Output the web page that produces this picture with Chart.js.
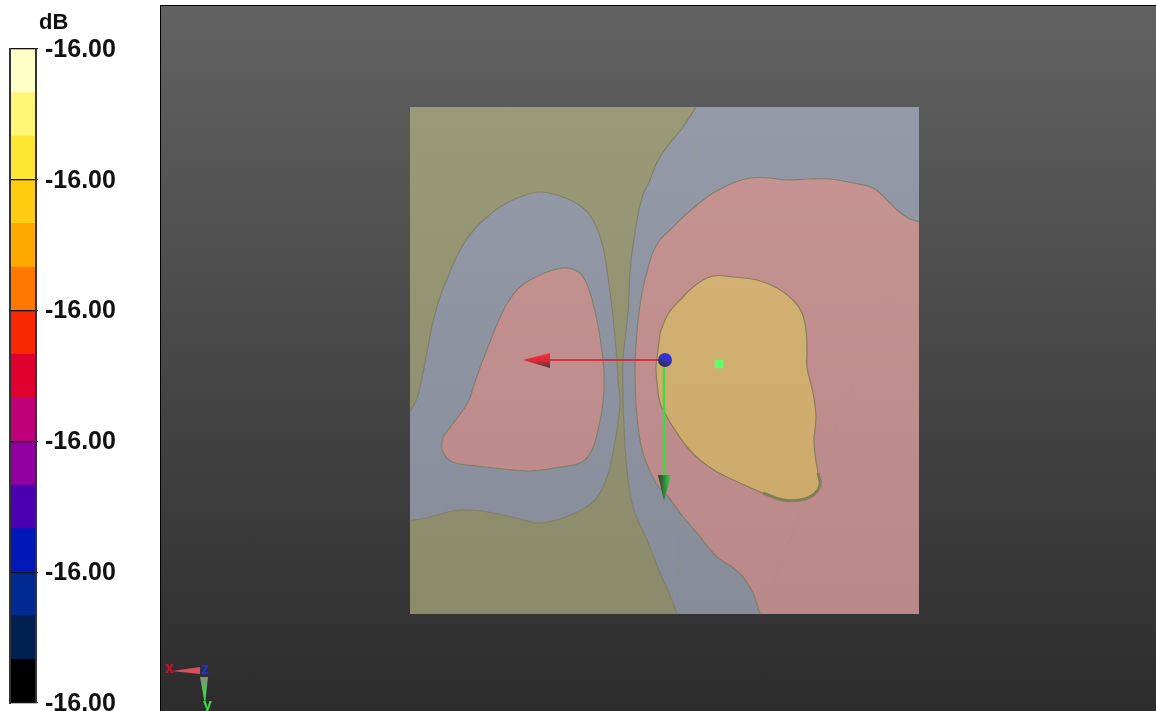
<!DOCTYPE html>
<html lang="en">
<head>
  <meta charset="UTF-8">
  <title>dB contour</title>
  <script src="https://cdn.jsdelivr.net/npm/chart.js"></script>
  <style>
    html, body { margin: 0; padding: 0; background: #fff; overflow: hidden; }
    #page { position: relative; width: 1156px; height: 711px; }
    #barWrap { position: absolute; left: 0; top: 0; width: 160px; height: 711px; }
    #view {
      position: absolute; left: 160px; top: 5px; width: 995px; height: 705px;
      border-left: 1px solid #000; border-top: 1px solid #000;
      background: linear-gradient(to bottom, #626262, #2c2c2c);
    }
    .label { position: absolute; font-family: "Liberation Sans", Arial, sans-serif; font-weight: bold; }
    #unit { left: 39px; top: 9px; font-size: 22px; color: #111; }
    .triad { font-size: 16px; line-height: 16px; }
  </style>
</head>
<body>
<div id="page">
  <div id="barWrap"><canvas id="bar" width="160" height="711"></canvas></div>
  <div class="label" id="unit">dB</div>
  <div id="view"><canvas id="field" width="995" height="705"></canvas></div>
  <div class="label triad" style="left:165px;top:660px;color:#d01028">x</div>
  <div class="label triad" style="left:201px;top:661px;color:#2030e0">z</div>
  <div class="label triad" style="left:203px;top:697px;color:#40e040">y</div>
</div>

<script>
  // colour bar, top to bottom
  const bandColors = ["#ffffc8", "#fff678", "#ffe632", "#ffcc10", "#ffaa00", "#ff7800", "#f82800", "#e00030",
    "#c00078", "#9000a0", "#4a00b0", "#0018b8", "#002a90", "#00204f", "#000000"];
  const levelLabels = ["-16.00", "-16.00", "-16.00", "-16.00", "-16.00", "-16.00"];

  // contours, measured across the plate (0-509 by 0-507, y down)
  const plateX = [0, 509, 509, 0, 0];
  const plateY = [0, 0, 507, 507, 0];

  const grayLeftX = [0, 0, 7, 12, 17, 23, 30, 40, 50, 62, 77, 93, 110, 130, 153, 172, 183, 192, 198, 203, 207, 208, 210, 208, 203, 197, 185, 167, 147, 127, 107, 83, 63, 43, 20, 0, 0, 0];
  const grayLeftY = [305, 305, 291, 271, 245, 215, 190, 165, 143, 125, 110, 98, 90, 85, 90, 100, 113, 136, 170, 210, 253, 273, 293, 316, 346, 370, 393, 405, 413, 416, 411, 406, 403, 404, 410, 414, 414, 305];

  const grayRightX = [286, 286, 509, 509, 509, 509, 267, 267, 260, 253, 237, 223, 217, 214, 213, 213, 218, 220, 223, 228, 233, 240, 248, 260, 273, 286];
  const grayRightY = [0, 0, 0, 0, 507, 507, 507, 507, 488, 473, 433, 400, 363, 320, 283, 253, 205, 165, 138, 108, 88, 73, 53, 36, 20, 0];

  const pinkLeftX = [72, 80, 88, 98, 110, 130, 153, 167, 175, 183, 190, 194, 193, 188, 182, 172, 150, 120, 93, 67, 43, 33, 33, 42, 58, 65, 72];
  const pinkLeftY = [255, 235, 215, 195, 180, 168, 161, 164, 173, 196, 230, 266, 296, 323, 343, 355, 360, 364, 362, 359, 355, 345, 331, 318, 295, 275, 255];

  const pinkRightX = [509, 509, 509, 509, 350, 350, 343, 333, 322, 307, 287, 270, 257, 247, 233, 227, 225, 226, 229, 233, 238, 243, 250, 262, 273, 287, 303, 323, 340, 360, 377, 397, 420, 443, 463, 477, 487, 498, 509];
  const pinkRightY = [115, 115, 507, 507, 507, 507, 486, 470, 460, 450, 426, 406, 388, 378, 346, 310, 266, 238, 205, 181, 161, 145, 133, 121, 110, 98, 86, 76, 71, 71, 73, 72, 72, 76, 81, 93, 103, 111, 115];

  const orangeX = [250, 258, 272, 287, 303, 323, 347, 367, 383, 392, 396, 397, 397, 403, 406, 404, 408, 410, 403, 390, 373, 353, 330, 307, 290, 277, 263, 255, 250, 247, 246, 248, 250];
  const orangeY = [226, 207, 191, 177, 169, 170, 173, 181, 193, 206, 223, 246, 260, 286, 310, 336, 366, 378, 388, 393, 393, 386, 376, 365, 353, 340, 320, 306, 296, 276, 260, 243, 226];

  const rimX = [408, 410, 403, 390, 373, 353];
  const rimY = [366, 378, 388, 393, 393, 386];

  // source axes
  const redShaftX = [254, 140];
  const redShaftY = [253, 253];
  const redConeX = [113, 140, 140, 113];
  const redConeY = [253, 246, 261, 253];
  const greenShaftX = [254, 254];
  const greenShaftY = [260, 372];
  const greenConeX = [254, 248, 261, 254];
  const greenConeY = [394, 368, 368, 394];
  const sourceX = [255];
  const sourceY = [253];
  const markerX = [309];
  const markerY = [257];

  // small triad in the corner
  const triadRedX = [-238, -210, -210, -238];
  const triadRedY = [564, 560, 567, 564];
  const triadGreenX = [-210, -202, -205, -210];
  const triadGreenY = [570, 570, 598, 570];

  const toPoints = (xs, ys) => xs.map((x, i) => ({ x: x, y: ys[i] }));

  // vertical shading down the plate
  function plateShade(top, bottom) {
    return function (c) {
      const chart = c.chart;
      if (!chart.chartArea) return top;
      const g = chart.ctx.createLinearGradient(0, chart.scales.y.getPixelForValue(0), 0, chart.scales.y.getPixelForValue(507));
      g.addColorStop(0, top);
      g.addColorStop(1, bottom);
      return g;
    };
  }

  // shading across a small mark, from one data point to another
  function markShade(x0, y0, x1, y1, stops) {
    return function (c) {
      const chart = c.chart;
      if (!chart.chartArea) return stops[0];
      const sx = chart.scales.x, sy = chart.scales.y;
      const g = chart.ctx.createLinearGradient(sx.getPixelForValue(x0), sy.getPixelForValue(y0), sx.getPixelForValue(x1), sy.getPixelForValue(y1));
      stops.forEach((s, i) => g.addColorStop(i / (stops.length - 1), s));
      return g;
    };
  }

  const onPlateEdge = (a, b) =>
    (a.x === b.x && (a.x === 0 || a.x === 509)) || (a.y === b.y && (a.y === 0 || a.y === 507));

  function region(xs, ys, top, bottom, edge) {
    return {
      data: toPoints(xs, ys),
      showLine: true,
      fill: "shape",
      tension: 0.4,
      pointRadius: 0,
      borderWidth: 1.2,
      borderColor: edge,
      backgroundColor: plateShade(top, bottom),
      segment: {
        borderColor: (c) => (onPlateEdge(c.p0.parsed, c.p1.parsed) ? "transparent" : edge),
      },
    };
  }

  function solid(xs, ys, paint) {
    return { data: toPoints(xs, ys), showLine: true, fill: "shape", tension: 0, pointRadius: 0, borderWidth: 0, backgroundColor: paint };
  }

  function stroke(xs, ys, color, width) {
    return { data: toPoints(xs, ys), showLine: true, fill: false, tension: 0.4, pointRadius: 0, borderWidth: width, borderColor: color };
  }

  const edgeColor = "#82806a";

  // painted bottom up, reversed below because Chart.js paints the first dataset last
  const layers = [
    Object.assign(region(plateX, plateY, "#9a9a78", "#8b8a6b", edgeColor), { tension: 0, borderWidth: 0 }),
    region(grayLeftX, grayLeftY, "#949aa8", "#868c98", edgeColor),
    region(grayRightX, grayRightY, "#949aa8", "#868c98", edgeColor),
    region(pinkLeftX, pinkLeftY, "#c89494", "#b98888", edgeColor),
    region(pinkRightX, pinkRightY, "#c89494", "#b98888", edgeColor),
    region(orangeX, orangeY, "#d8b478", "#c8a868", "#8a7c58"),
    stroke(rimX, rimY, "#7f7f58", 3),
    stroke(redShaftX, redShaftY, "#e01428", 1.5),
    solid(redConeX, redConeY, markShade(140, 246, 140, 261, ["#f03040", "#e02838", "#3a3a3a"])),
    stroke(greenShaftX, greenShaftY, "#44d844", 2.5),
    solid(greenConeX, greenConeY, markShade(248, 380, 261, 380, ["#2a3a2a", "#38d848"])),
    { data: toPoints(sourceX, sourceY), pointRadius: 7, pointBorderWidth: 0, backgroundColor: markShade(258, 246, 252, 260, ["#3434f0", "#3232c0", "#2e2e36"]) },
    { data: toPoints(markerX, markerY), pointStyle: "rect", pointRadius: 6, pointBorderWidth: 0, backgroundColor: "#60ff70" },
    solid(triadRedX, triadRedY, "#d85060"),
    solid(triadGreenX, triadGreenY, markShade(-205, 570, -205, 590, ["#808c80", "#38e040"])),
  ];

  new Chart(document.getElementById("field"), {
    type: "scatter",
    data: { datasets: layers.reverse() },
    options: {
      responsive: false,
      animation: false,
      layout: { padding: 0, autoPadding: false },
      plugins: { legend: { display: false }, tooltip: { enabled: false } },
      scales: {
        x: { type: "linear", display: false, min: -249, max: 746 },
        y: { type: "linear", display: false, min: -101, max: 604, reverse: true },
      },
    },
  });

  // stacked bottom up
  const stacked = bandColors.slice().reverse();

  new Chart(document.getElementById("bar"), {
    type: "bar",
    data: {
      labels: ["dB"],
      datasets: stacked.map((color) => ({
        data: [1],
        backgroundColor: color,
        barPercentage: 1,
        categoryPercentage: 1,
      })),
    },
    options: {
      responsive: false,
      animation: false,
      layout: { padding: { left: 10, top: 49, bottom: 8, right: 0 }, autoPadding: false },
      plugins: { legend: { display: false }, tooltip: { enabled: false } },
      scales: {
        x: {
          stacked: true,
          display: false,
        },
        y: {
          stacked: true,
          position: "right",
          min: 0,
          max: 15,
          grid: { color: "#111", z: 1, tickLength: 2, lineWidth: 1.3 },
          border: { color: "#333", width: 2, z: 1 },
          ticks: {
            stepSize: 3,
            padding: 7,
            labelOffset: 1,
            color: "#111",
            font: { family: "Liberation Sans", size: 25, weight: "bold" },
            callback: (v, i) => levelLabels[i],
          },
          afterFit: (s) => { s.width = 124; s.paddingTop = 0; s.paddingBottom = 0; },
        },
        barEdge: {
          position: "left",
          min: 0,
          max: 15,
          grid: { color: "transparent", z: 1, drawTicks: false, drawOnChartArea: false },
          border: { color: "#333", width: 2, z: 1 },
          ticks: { display: false },
          afterFit: (s) => { s.width = 0; s.paddingTop = 0; s.paddingBottom = 0; },
        },
      },
    },
  });
</script>
</body>
</html>
